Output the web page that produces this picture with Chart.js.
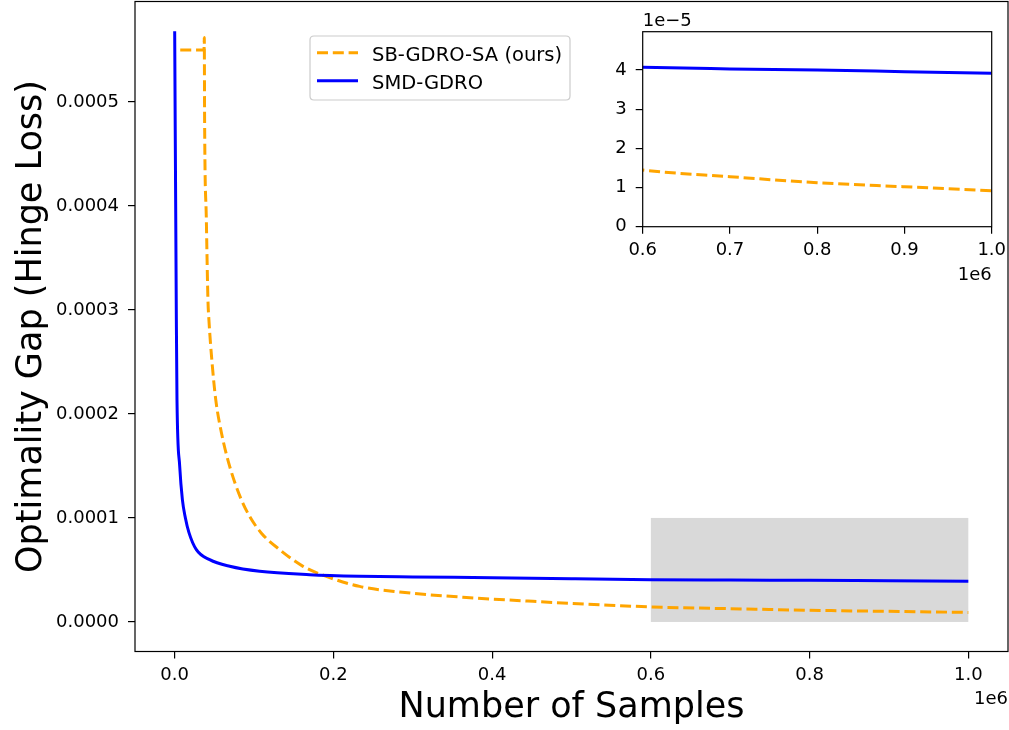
<!DOCTYPE html>
<html>
<head>
<meta charset="utf-8">
<script src="https://cdn.jsdelivr.net/npm/chart.js@4.4.1/dist/chart.umd.min.js"></script>
<style>
  html, body { margin: 0; padding: 0; background: #ffffff; }
  #wrap { position: relative; width: 1009px; height: 730px; overflow: hidden; background: #ffffff; }
  #main { position: absolute; left: 0; top: 0; }
  #inset { position: absolute; left: 570px; top: 0; }
</style>
</head>
<body>
<div id="wrap">
  <canvas id="main" width="1009" height="730"></canvas>
  <canvas id="inset" width="439" height="300"></canvas>
</div>
<script>
// ---------------- data ----------------
const seriesNames = ['SB-GDRO-SA (ours)', 'SMD-GDRO'];

// SB-GDRO-SA (ours) — orange dashed
const orangeX = [7000, 37000, 37300, 37700, 39900, 41900, 43100, 47500, 51700, 58900, 69300, 84000, 94500, 109000, 132300, 161700, 191000, 233000, 283500, 367600, 451500, 535600, 600000, 700000, 800000, 900000, 1000000];
const orangeY = [5.50e-4, 5.50e-4, 5.62e-4, 4.83e-4, 3.87e-4, 3.10e-4, 2.91e-4, 2.458e-4, 2.14e-4, 1.82e-4, 1.496e-4, 1.176e-4, 1.015e-4, 0.856e-4, 0.695e-4, 0.535e-4, 0.438e-4, 0.342e-4, 0.288e-4, 0.236e-4, 0.198e-4, 0.166e-4, 1.447e-5, 1.277e-5, 1.123e-5, 1.02e-5, 0.919e-5];

// SMD-GDRO — blue solid
const blueX = [0, 2100, 2900, 6300, 9700, 13500, 18000, 27300, 44100, 69300, 107000, 170000, 233000, 300000, 400000, 500000, 600000, 700000, 800000, 900000, 1000000];
const blueY = [5.68e-4, 2.91e-4, 2.14e-4, 1.50e-4, 1.176e-4, 1.0e-4, 0.859e-4, 0.695e-4, 0.599e-4, 0.535e-4, 0.487e-4, 0.455e-4, 0.440e-4, 0.433e-4, 0.425e-4, 0.415e-4, 4.07e-5, 4.03e-5, 4.0e-5, 3.96e-5, 3.92e-5];

// shaded (zoomed) region
const shadeX = [600000, 1000000];
const shadeY = [0, 0.0001];

// tick values
const mainXTicks = [0, 200000, 400000, 600000, 800000, 1000000];
const mainYTicks = [0, 0.0001, 0.0002, 0.0003, 0.0004, 0.0005];
const insetXTicks = [600000, 700000, 800000, 900000, 1000000];
const insetYTicks = [0, 1e-5, 2e-5, 3e-5, 4e-5];

// axis texts
const xTitle = 'Number of Samples';
const yTitle = 'Optimality Gap (Hinge Loss)';
const xOffsetText = '1e6';
const insetYOffsetText = '1e\u22125';

// ---------------- helpers ----------------
const FONT = "'DejaVu Sans', 'Liberation Sans', sans-serif";
const ORANGE = '#ffa500';
const BLUE = '#0000ff';
const DASH = [11, 4.8];
const LW = 3;

function pts(xs, ys) { return xs.map((x, i) => ({ x: x, y: ys[i] })); }

function makeDatasets() {
  return [
    { label: seriesNames[0], data: pts(orangeX, orangeY), borderColor: ORANGE, borderWidth: LW,
      borderDash: DASH, pointRadius: 0, cubicInterpolationMode: 'monotone', fill: false, order: 1,
      borderCapStyle: 'butt', borderJoinStyle: 'round' },
    { label: seriesNames[1], data: pts(blueX, blueY), borderColor: BLUE, borderWidth: LW,
      pointRadius: 0, cubicInterpolationMode: 'monotone', fill: false, order: 0, borderJoinStyle: 'round' }
  ];
}

function tickCfg(cb, pad) {
  return { font: { family: FONT, size: 18 }, color: '#000', padding: pad, maxRotation: 0,
           minRotation: 0, autoSkip: false, callback: cb };
}
const gridCfg = { drawOnChartArea: false, drawTicks: true, tickLength: 7, color: '#000', tickColor: '#000', lineWidth: 1.2 };

const boxPlugin = {
  id: 'box',
  afterDraw(chart) {
    const a = chart.chartArea, c = chart.ctx;
    c.save();
    c.strokeStyle = '#000';
    c.lineWidth = 1.2;
    c.strokeRect(a.left, a.top, a.right - a.left, a.bottom - a.top);
    c.restore();
  }
};

// ---------------- main chart ----------------
const shadePlugin = {
  id: 'shade',
  beforeDatasetsDraw(chart) {
    const xs = chart.scales.x, ys = chart.scales.y, c = chart.ctx;
    const x0 = xs.getPixelForValue(shadeX[0]), x1 = xs.getPixelForValue(shadeX[1]);
    const y0 = ys.getPixelForValue(shadeY[0]), y1 = ys.getPixelForValue(shadeY[1]);
    c.save();
    c.fillStyle = 'rgba(128,128,128,0.3)';
    c.fillRect(x0, y1, x1 - x0, y0 - y1);
    c.restore();
  }
};

const mainTextPlugin = {
  id: 'mainText',
  afterDraw(chart) {
    const c = chart.ctx, a = chart.chartArea;
    c.save();
    c.fillStyle = '#000';
    // x title
    c.font = '35px ' + FONT;
    c.textAlign = 'center';
    c.textBaseline = 'alphabetic';
    c.fillText(xTitle, (a.left + a.right) / 2, 717);
    // y title
    c.save();
    c.translate(40.5, (a.top + a.bottom) / 2);
    c.rotate(-Math.PI / 2);
    c.fillText(yTitle, 0, 0);
    c.restore();
    // offset text
    c.font = '18px ' + FONT;
    c.textAlign = 'right';
    c.fillText(xOffsetText, a.right, 704);

    // legend
    const lx = 310, ly = 36, lw = 260, lh = 64, r = 4;
    c.beginPath();
    c.moveTo(lx + r, ly);
    c.lineTo(lx + lw - r, ly); c.quadraticCurveTo(lx + lw, ly, lx + lw, ly + r);
    c.lineTo(lx + lw, ly + lh - r); c.quadraticCurveTo(lx + lw, ly + lh, lx + lw - r, ly + lh);
    c.lineTo(lx + r, ly + lh); c.quadraticCurveTo(lx, ly + lh, lx, ly + lh - r);
    c.lineTo(lx, ly + r); c.quadraticCurveTo(lx, ly, lx + r, ly);
    c.closePath();
    c.fillStyle = 'rgba(255,255,255,0.8)';
    c.fill();
    c.strokeStyle = '#cccccc';
    c.lineWidth = 1.2;
    c.stroke();

    const rows = [
      { y: 52.7, base: 60.7, color: ORANGE, dash: DASH, text: seriesNames[0] },
      { y: 80.7, base: 88.5, color: BLUE, dash: [], text: seriesNames[1] }
    ];
    rows.forEach(rw => {
      c.beginPath();
      c.setLineDash(rw.dash);
      c.strokeStyle = rw.color;
      c.lineWidth = LW;
      c.lineCap = 'butt';
      c.moveTo(317, rw.y); c.lineTo(358, rw.y);
      c.stroke();
      c.setLineDash([]);
      c.fillStyle = '#000';
      c.font = '19.5px ' + FONT;
      c.textAlign = 'left';
      c.fillText(rw.text, 372, rw.base);
    });
    c.restore();
  }
};

new Chart(document.getElementById('main').getContext('2d'), {
  type: 'line',
  data: { datasets: makeDatasets() },
  options: {
    responsive: false, animation: false, devicePixelRatio: 1,
    layout: { padding: { left: 0, top: 1.5, right: 1, bottom: 0 } },
    plugins: { legend: { display: false }, tooltip: { enabled: false } },
    scales: {
      x: {
        type: 'linear', min: -50000, max: 1050000,
        afterBuildTicks: s => { s.ticks = mainXTicks.map(v => ({ value: v })); },
        afterFit: s => { s.height = 78.5; s.paddingLeft = 0; s.paddingRight = 0; },
        grid: gridCfg, border: { display: false },
        ticks: tickCfg(v => (v / 1e6).toFixed(1), 6)
      },
      y: {
        type: 'linear', min: -0.0000284, max: 0.0005966,
        afterBuildTicks: s => { s.ticks = mainYTicks.map(v => ({ value: v })); },
        afterFit: s => { s.width = 135; s.paddingTop = 0; s.paddingBottom = 0; },
        grid: gridCfg, border: { display: false },
        ticks: tickCfg(v => v.toFixed(4), 9)
      }
    }
  },
  plugins: [shadePlugin, boxPlugin, mainTextPlugin]
});

// ---------------- inset chart ----------------
const insetBgPlugin = {
  id: 'insetBg',
  beforeDraw(chart) {
    const a = chart.chartArea, c = chart.ctx;
    c.save();
    c.fillStyle = '#ffffff';
    c.fillRect(a.left, a.top, a.right - a.left, a.bottom - a.top);
    c.restore();
  }
};
const insetTextPlugin = {
  id: 'insetText',
  afterDraw(chart) {
    const c = chart.ctx, a = chart.chartArea;
    c.save();
    c.fillStyle = '#000';
    c.font = '18px ' + FONT;
    c.textBaseline = 'alphabetic';
    c.textAlign = 'right';
    c.fillText(xOffsetText, a.right, 280);
    c.textAlign = 'left';
    c.fillText(insetYOffsetText, a.left, 26);
    c.restore();
  }
};

new Chart(document.getElementById('inset').getContext('2d'), {
  type: 'line',
  data: { datasets: makeDatasets() },
  options: {
    responsive: false, animation: false, devicePixelRatio: 1,
    layout: { padding: { left: 0, top: 31.7, right: 17.3, bottom: 0 } },
    plugins: { legend: { display: false }, tooltip: { enabled: false } },
    scales: {
      x: {
        type: 'linear', min: 600000, max: 1000000,
        afterBuildTicks: s => { s.ticks = insetXTicks.map(v => ({ value: v })); },
        afterFit: s => { s.height = 73.3; s.paddingLeft = 0; s.paddingRight = 0; },
        grid: gridCfg, border: { display: false },
        ticks: tickCfg(v => (v / 1e6).toFixed(1), 6)
      },
      y: {
        type: 'linear', min: 0, max: 4.98e-5,
        afterBuildTicks: s => { s.ticks = insetYTicks.map(v => ({ value: v })); },
        afterFit: s => { s.width = 72.7; s.paddingTop = 0; s.paddingBottom = 0; },
        grid: gridCfg, border: { display: false },
        ticks: tickCfg(v => String(Math.round(v / 1e-5)), 9)
      }
    }
  },
  plugins: [insetBgPlugin, boxPlugin, insetTextPlugin]
});
</script>
</body>
</html>
